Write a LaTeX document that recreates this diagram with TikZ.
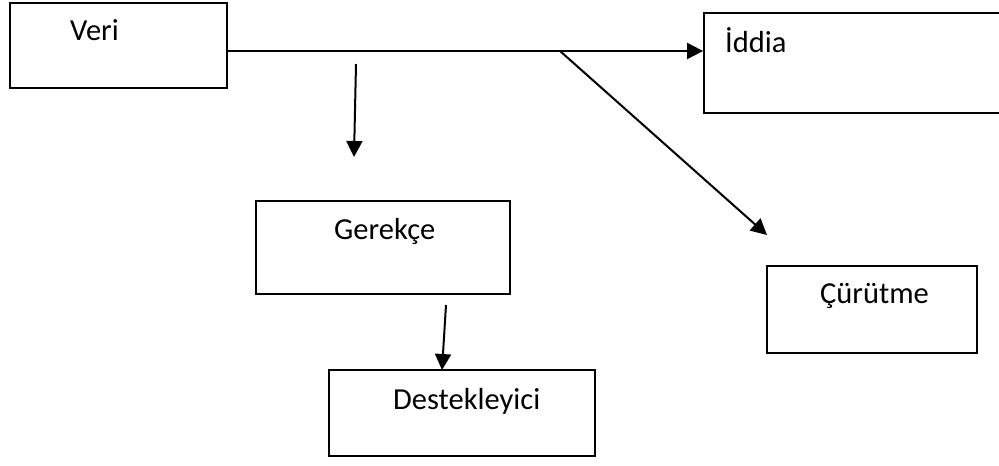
\documentclass[tikz,border=0pt]{standalone}
\usepackage{fontspec}
\setmainfont{Carlito}
\usetikzlibrary{arrows.meta}
\begin{document}
\begin{tikzpicture}[x=1pt,y=-1pt,
  box/.style={draw=black,line width=1.8pt,fill=white,inner sep=0pt},
  lbl/.style={anchor=base west,inner sep=0pt,font=\fontsize{30.5}{36}\selectfont},
  conn/.style={line width=2pt},
  arr/.style={conn,-{Triangle[length=16pt,width=16pt]}}]
\useasboundingbox (0,0) rectangle (999,466);
\node[box,minimum width=217pt,minimum height=85pt] (veri) at (118.5,45.5) {};
\node[box,minimum width=302pt,minimum height=100pt] (iddia) at (855,63) {};
\node[box,minimum width=254pt,minimum height=93pt] (gerekce) at (383,247.5) {};
\node[box,minimum width=266pt,minimum height=86pt] (destek) at (462,413) {};
\node[box,minimum width=210pt,minimum height=87pt] (curutme) at (872,309.5) {};
\node[lbl] (tveri) at (70,40) {Veri};
\node[lbl] (tiddia) at (725,52) {İddia};
\node[lbl] (tgerekce) at (334,239) {Gerekçe};
\node[lbl] (tdestek) at (393,409) {Destekleyici};
\node[lbl] (tcurutme) at (820,303) {Çürütme};
\coordinate (split) at (560,51);
\coordinate (dend) at (767,235);
\coordinate (vs) at (356,64);
\coordinate (ve) at (354,157);
\coordinate (gs) at (446,305);
\draw[arr] (veri.east |- split) -- (iddia.west |- split);
\draw[arr] (split) -- (dend);
\draw[arr] (vs) -- (ve);
\draw[arr] (gs) -- (442,370);
\end{tikzpicture}
\end{document}
